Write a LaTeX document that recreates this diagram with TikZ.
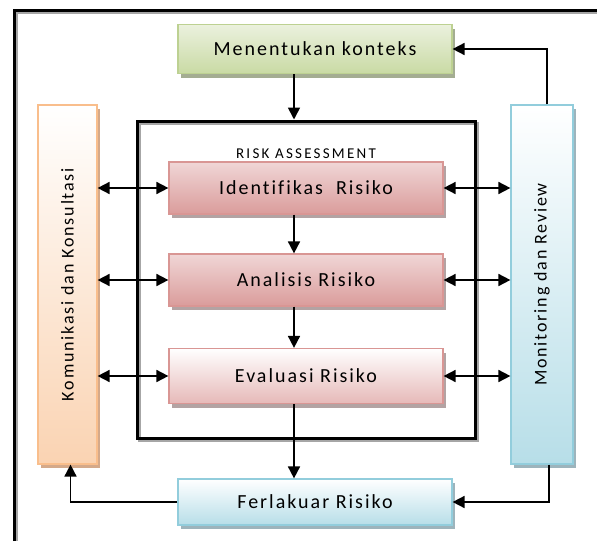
\documentclass[tikz,border=0pt]{standalone}
\usepackage{fontspec}
\setmainfont{Carlito}
\newfontfamily\boxfont[LetterSpace=10,Ligatures=NoCommon]{Carlito}
\newfontfamily\titlefont[LetterSpace=15,Ligatures=NoCommon]{Carlito}
\usetikzlibrary{positioning,shadows,arrows.meta}

\definecolor{greentop}{HTML}{EBF1DE}
\definecolor{greenbot}{HTML}{C9DAA4}
\definecolor{greenline}{HTML}{BDD192}
\definecolor{greenshadow}{HTML}{A4AD92}
\definecolor{redtop}{HTML}{F0D6D6}
\definecolor{redbot}{HTML}{DA9C9B}
\definecolor{redline}{HTML}{D99694}
\definecolor{redshadow}{HTML}{B3A3A3}
\definecolor{evalbot}{HTML}{E6B9B8}
\definecolor{orangebot}{HTML}{FAD3B2}
\definecolor{orangeline}{HTML}{F9BE8C}
\definecolor{orangeshadow}{HTML}{D4A98A}
\definecolor{bluebot}{HTML}{B7DEE8}
\definecolor{blueline}{HTML}{92CDDC}
\definecolor{blueshadow}{HTML}{9DB4BC}

\begin{document}
\begin{tikzpicture}[x=1pt,y=-1pt,->,>={Triangle[length=12pt,width=12pt]},
line width=1.7pt, node distance=92pt and 10pt, on grid,
stagebox/.style={rectangle, draw=redline, line width=1.2pt, inner sep=0pt,
  minimum width=274pt, minimum height=52pt, top color=redtop, bottom color=redbot,
  font=\boxfont\fontsize{20}{24}\selectfont,
  drop shadow={shadow xshift=3pt, shadow yshift=-4pt, fill=redshadow, opacity=1}},
sidebox/.style={rectangle, line width=1.2pt, inner sep=0pt,
  minimum height=359pt, top color=white,
  font=\boxfont\fontsize{18}{22}\selectfont},
assessbox/.style={rectangle, draw=black, line width=3pt,
  minimum width=338pt, minimum height=317pt,
  drop shadow={shadow xshift=2pt, shadow yshift=-2pt, fill=none, draw=black!35, opacity=1}}]

\useasboundingbox (0,0) rectangle (597,541);
\draw[-, black!35, line width=3pt] (16,541) -- (16,12) -- (597,12);
\draw[-, line width=3pt] (14,541) -- (14,10) -- (597,10);

\node[assessbox] (ra) at (306,279.5) {};
\node[font=\titlefont\fontsize{15}{18}\selectfont] (ratitle) [below=25pt of ra.north] {RISK ASSESSMENT};
\node[stagebox] (ident) [above=91.5pt of ra] {Identifikas\ \ Risiko};
\node[stagebox] (anal) [below=92pt of ident] {Analisis Risiko};
\node[stagebox, top color=white, bottom color=evalbot, minimum height=55pt] (eval) [below=96pt of anal] {Evaluasi Risiko};

\node[stagebox, draw=greenline, top color=greentop, bottom color=greenbot, minimum height=49pt,
  drop shadow={shadow xshift=3pt, shadow yshift=-4pt, fill=greenshadow, opacity=1}]
  (konteks) [above right=139pt and 9pt of ident] {Menentukan konteks};
\node[stagebox, draw=blueline, top color=white, bottom color=bluebot, minimum height=46pt,
  drop shadow={shadow xshift=3pt, shadow yshift=-4pt, fill=blueshadow, opacity=1}]
  (ferl) [below right=126pt and 9pt of eval] {Ferlakuar Risiko};

\node[sidebox, draw=orangeline, bottom color=orangebot, minimum width=59pt,
  drop shadow={shadow xshift=3pt, shadow yshift=-4pt, fill=orangeshadow, opacity=1}]
  (komu) [below left=5pt and 238.5pt of ra] {\rotatebox{90}{Komunikasi dan Konsultasi}};
\node[sidebox, draw=blueline, bottom color=bluebot, minimum width=62pt,
  drop shadow={shadow xshift=3pt, shadow yshift=-4pt, fill=blueshadow, opacity=1}]
  (moni) [below right=5pt and 236pt of ra] {\rotatebox{90}{Monitoring dan Review}};

\coordinate (spine) at (294,0);

% alur utama
\draw (konteks.south -| spine) -- (ra.north -| spine);
\draw (ident.south -| spine) -- (anal.north -| spine);
\draw (anal.south -| spine) -- (eval.north -| spine);
\draw (eval.south -| spine) -- (ferl.north -| spine);

% komunikasi dan monitoring
\draw[<->] (komu.east |- ident.west) -- (ident.west);
\draw[<->] (komu.east |- anal.west) -- (anal.west);
\draw[<->] (komu.east |- eval.west) -- (eval.west);
\draw[<->] (ident.east) -- (ident.east -| moni.west);
\draw[<->] (anal.east) -- (anal.east -| moni.west);
\draw[<->] (eval.east) -- (eval.east -| moni.west);

\draw ([xshift=5pt]moni.north) |- (konteks.east);
\draw ([xshift=7pt]moni.south) |- (ferl.east);
\draw (ferl.west) -| ([xshift=3pt]komu.south);
\end{tikzpicture}
\end{document}
